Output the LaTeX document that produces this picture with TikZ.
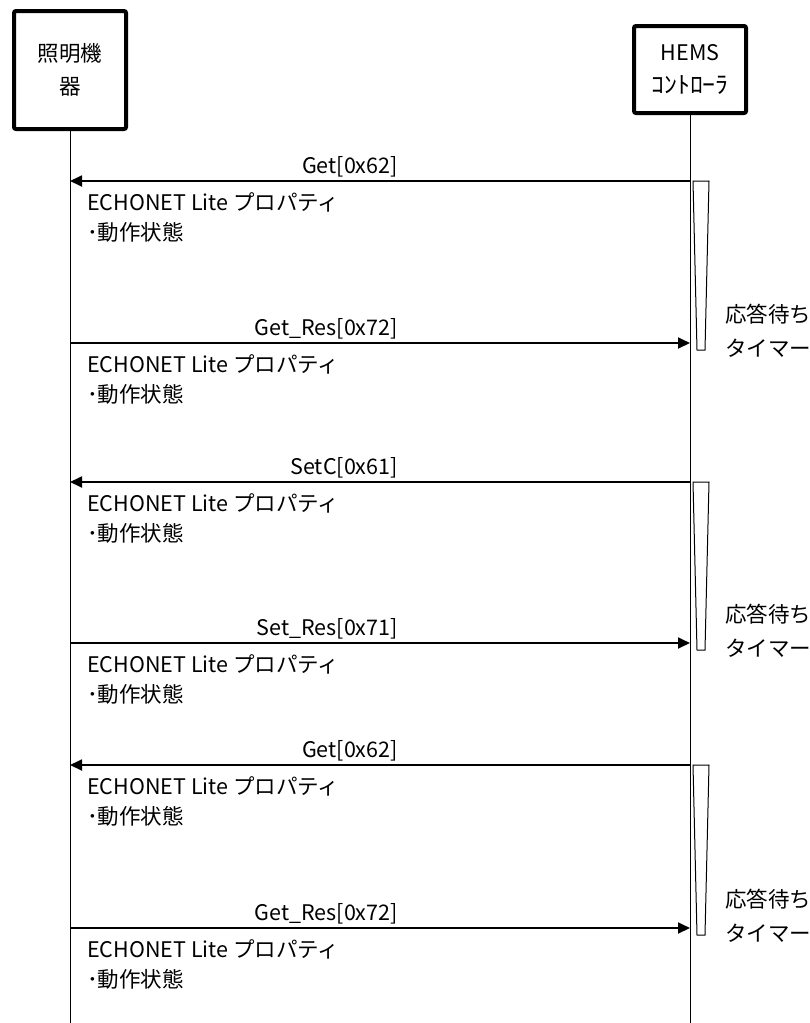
\documentclass[tikz,border=0pt]{standalone}
\usepackage{fontspec}
\setmainfont{Noto Sans CJK JP}
\usetikzlibrary{arrows.meta}
\tikzset{
  actor/.style={draw, line width=4pt, rounded corners=2pt, align=center, inner sep=0pt,
    font=\fontsize{21.5}{33}\selectfont},
  life/.style={line width=1pt},
  msg/.style={line width=1.8pt, -{Triangle[length=12pt,width=11pt]}},
  msglbl/.style={anchor=base east, inner sep=0pt, font=\fontsize{21.5}{30}\selectfont},
  body/.style={anchor=west, inner sep=0pt, align=left, font=\fontsize{21.5}{30}\selectfont},
  timer/.style={draw, line width=1pt},
  timerlbl/.style={anchor=west, inner sep=0pt, align=left, font=\fontsize{21.5}{34}\selectfont}
}
\begin{document}
\begin{tikzpicture}[x=1pt,y=-1pt]
\useasboundingbox (0,0) rectangle (810,1023);
% actors
\node[actor, minimum width=112pt, minimum height=118pt] (L) at (70,70) {照明機\\器};
\node[actor, minimum width=112pt, minimum height=87pt] (R) at (690,69.5) {HEMS\\\scalebox{1.2}[1.1]{ｺﾝﾄﾛｰﾗ}};
\coordinate (Lend) at (70,1023);
\coordinate (Rend) at (690,1023);
\draw[life] (L.south) -- (Lend);
\draw[life] (R.south) -- (Rend);
% message anchor points
\foreach \i/\y in {1/181,2/343,3/482,4/643,5/765,6/928}{
  \coordinate (l\i) at (70,\y);
  \coordinate (r\i) at (690,\y);
}
% timers
\foreach \a/\b in {1/2,3/4,5/6}{
  \draw[timer] ([xshift=3pt]r\a) -- ([xshift=19pt]r\a) -- ([xshift=15pt,yshift=-7pt]r\b) -- ([xshift=7pt,yshift=-7pt]r\b) -- cycle;
  \node[timerlbl] (t\b) at ([xshift=35pt,yshift=12pt]r\b) {応答待ち\\タイマー};
}
% messages
\draw[msg] (r1) -- (l1);
\draw[msg] (l2) -- (r2);
\draw[msg] (r3) -- (l3);
\draw[msg] (l4) -- (r4);
\draw[msg] (r5) -- (l5);
\draw[msg] (l6) -- (r6);
\foreach \i/\t in {1/{Get[0x62]},2/{Get\_Res[0x72]},3/{SetC[0x61]},4/{Set\_Res[0x71]},5/{Get[0x62]},6/{Get\_Res[0x72]}}{
  \node[msglbl] (m\i) at ([xshift=328pt,yshift=8pt]l\i) {\t};
  \node[body] (b\i) at ([xshift=17pt,yshift=-36pt]l\i) {ECHONET Lite プロパティ\\･動作状態};
}
\end{tikzpicture}
\end{document}
